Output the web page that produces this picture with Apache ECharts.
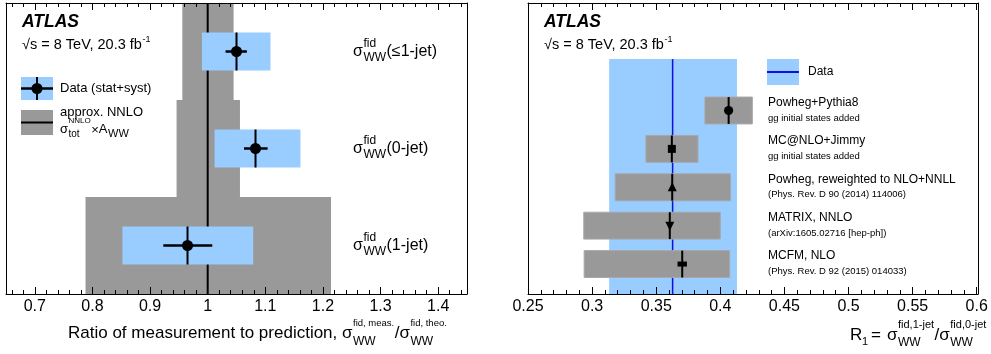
<!DOCTYPE html>
<html><head><meta charset="utf-8">
<script src="https://cdn.jsdelivr.net/npm/echarts@6/dist/echarts.min.js"></script>
<style>html,body{margin:0;padding:0;background:#fff}#c{width:991px;height:354px}</style>
</head><body><div id="c"></div>
<script>
// ---------------- Left panel: ratio measurement / prediction ----------------
const jetCategories = ['≤1-jet', '0-jet', '1-jet'];
const predCentral = [1, 1, 1];
const predLow = [0.956, 0.946, 0.788];
const predHigh = [1.045, 1.056, 1.214];
const ratioMeasured = [1.05, 1.083, 0.965];
const ratioTotLow = [0.99, 1.012, 0.852];
const ratioTotHigh = [1.109, 1.161, 1.079];
const ratioStatLow = [1.031, 1.063, 0.923];
const ratioStatHigh = [1.068, 1.104, 1.008];
const leftMajorTicks = [0.7, 0.8, 0.9, 1, 1.1, 1.2, 1.3, 1.4];
const leftMinorTicks = [0.66, 0.68, 0.72, 0.74, 0.76, 0.78, 0.82, 0.84, 0.86, 0.88, 0.92, 0.94, 0.96, 0.98,
  1.02, 1.04, 1.06, 1.08, 1.12, 1.14, 1.16, 1.18, 1.22, 1.24, 1.26, 1.28, 1.32, 1.34, 1.36, 1.38, 1.42, 1.44];

// ---------------- Right panel: R1 ----------------
const models = ['Powheg+Pythia8', 'MC@NLO+Jimmy', 'Powheg, reweighted to NLO+NNLL', 'MATRIX, NNLO', 'MCFM, NLO'];
const modelNotes = ['gg initial states added', 'gg initial states added', '(Phys. Rev. D 90 (2014) 114006)',
  '(arXiv:1605.02716 [hep-ph])', '(Phys. Rev. D 92 (2015) 014033)'];
const modelR1 = [0.4065, 0.3622, 0.3625, 0.3606, 0.3703];
const modelLow = [0.388, 0.342, 0.318, 0.2935, 0.2938];
const modelHigh = [0.425, 0.3826, 0.408, 0.400, 0.4073];
const modelMarkers = ['circle', 'square', 'triangle', 'triangleDown', 'cross'];
const dataR1 = [0.3628];
const dataR1Low = [0.3133];
const dataR1High = [0.413];
const rightMajorTicks = [0.25, 0.3, 0.35, 0.4, 0.45, 0.5, 0.55, 0.6];
const rightMinorTicks = [0.26, 0.27, 0.28, 0.29, 0.31, 0.32, 0.33, 0.34, 0.36, 0.37, 0.38, 0.39,
  0.41, 0.42, 0.43, 0.44, 0.46, 0.47, 0.48, 0.49, 0.51, 0.52, 0.53, 0.54, 0.56, 0.57, 0.58, 0.59];

const FONT = '"Liberation Sans", Arial, Helvetica, sans-serif';
const GRAY = '#999999';
const BLUE = '#99ccff';
const DBLUE = '#1010e0';

const chart = echarts.init(document.getElementById('c'), null, {renderer: 'canvas', width: 991, height: 354});

function fmt(v) { return String(+(+v).toFixed(2)); }

function xAx(grid, min, max, pos, vals, len, labels, line) {
  return {
    type: 'value', gridIndex: grid, min: min, max: max, position: pos, z: 10,
    axisLine: {show: line, onZero: false, lineStyle: {color: '#000', width: 1}},
    splitLine: {show: false},
    axisTick: {show: true, inside: true, length: len, customValues: vals, lineStyle: {color: '#000', width: 1}},
    axisLabel: {show: labels, customValues: vals, margin: 5, color: '#000', fontSize: 16, fontFamily: FONT, formatter: fmt}
  };
}
function yAx(grid, min, max, pos, inverse) {
  return {
    type: 'value', gridIndex: grid, min: min, max: max, position: pos, inverse: inverse, z: 10,
    axisLine: {show: true, onZero: false, lineStyle: {color: '#000', width: 1}},
    axisTick: {show: false}, axisLabel: {show: false}, splitLine: {show: false}
  };
}

function rectEl(api, x0, x1, y0, y1, style) {
  const a = api.coord([x0, y0]), b = api.coord([x1, y1]);
  return {type: 'rect', shape: {x: Math.min(a[0], b[0]), y: Math.min(a[1], b[1]),
    width: Math.abs(b[0] - a[0]), height: Math.abs(b[1] - a[1])}, style: style};
}
function lineEl(api, x0, y0, x1, y1, style) {
  const a = api.coord([x0, y0]), b = api.coord([x1, y1]);
  return {type: 'line', shape: {x1: a[0], y1: a[1], x2: b[0], y2: b[1]}, style: style};
}

const L_HALF = 0.196;   // half height of data boxes (row units), left panel
const R_HALF = 0.35;    // half height of model boxes, right panel
const R_MIN = -0.78, R_MAX = 6.8, R_BAND_TOP = 5.34;

function markerEl(kind, c) {
  const x = c[0], y = c[1];
  if (kind === 'circle') return {type: 'circle', shape: {cx: x, cy: y, r: 4.6}, style: {fill: '#000'}};
  if (kind === 'square') return {type: 'rect', shape: {x: x - 4, y: y - 4, width: 8, height: 8}, style: {fill: '#000'}};
  if (kind === 'triangle') return {type: 'polygon', shape: {points: [[x, y - 5], [x + 4.5, y + 4], [x - 4.5, y + 4]]}, style: {fill: '#000'}};
  if (kind === 'triangleDown') return {type: 'polygon', shape: {points: [[x, y + 5], [x + 4.5, y - 4], [x - 4.5, y - 4]]}, style: {fill: '#000'}};
  return {type: 'rect', shape: {x: x - 4.7, y: y - 2.5, width: 9.4, height: 5}, style: {fill: '#000'}};
}

const series = [
  {type: 'custom', xAxisIndex: 0, yAxisIndex: 0, z: 2,
    data: jetCategories.map((c, i) => [predLow[i], predHigh[i], i]),
    renderItem: (p, api) => rectEl(api, api.value(0), api.value(1), api.value(2), api.value(2) + 1, {fill: GRAY})},
  {type: 'custom', xAxisIndex: 0, yAxisIndex: 0, z: 2,
    data: jetCategories.map((c, i) => [predCentral[i], i]),
    renderItem: (p, api) => lineEl(api, api.value(0), api.value(1), api.value(0), api.value(1) + 1, {stroke: '#000', lineWidth: 2})},
  {type: 'custom', xAxisIndex: 0, yAxisIndex: 0, z: 2,
    data: jetCategories.map((c, i) => [ratioTotLow[i], ratioTotHigh[i], i]),
    renderItem: (p, api) => rectEl(api, api.value(0), api.value(1), api.value(2) + 0.5 - L_HALF, api.value(2) + 0.5 + L_HALF, {fill: BLUE})},
  {type: 'custom', xAxisIndex: 0, yAxisIndex: 0, z: 2,
    data: jetCategories.map((c, i) => [ratioMeasured[i], i, ratioStatLow[i], ratioStatHigh[i]]),
    renderItem: (p, api) => {
      const v = api.value(0), r = api.value(1) + 0.5;
      const c = api.coord([v, r]);
      return {type: 'group', children: [
        lineEl(api, api.value(2), r, api.value(3), r, {stroke: '#000', lineWidth: 2.5}),
        lineEl(api, v, r - L_HALF, v, r + L_HALF, {stroke: '#000', lineWidth: 2}),
        {type: 'circle', shape: {cx: c[0], cy: c[1], r: 5.5}, style: {fill: '#000'}}
      ]};
    }},
  {type: 'custom', xAxisIndex: 4, yAxisIndex: 2, z: 2,
    data: dataR1.map((v, i) => [dataR1Low[i], dataR1High[i], v]),
    renderItem: (p, api) => ({type: 'group', children: [
      rectEl(api, api.value(0), api.value(1), R_MIN, R_BAND_TOP, {fill: BLUE}),
      lineEl(api, api.value(2), R_MIN, api.value(2), R_BAND_TOP, {stroke: DBLUE, lineWidth: 1.5})
    ]})},
  {type: 'custom', xAxisIndex: 4, yAxisIndex: 2, z: 2,
    data: models.map((m, i) => [modelLow[i], modelHigh[i], 4 - i]),
    renderItem: (p, api) => rectEl(api, api.value(0), api.value(1), api.value(2) - R_HALF, api.value(2) + R_HALF, {fill: GRAY, stroke: '#a8a8a8', lineWidth: 1})},
  {type: 'custom', xAxisIndex: 4, yAxisIndex: 2, z: 2,
    data: models.map((m, i) => [modelR1[i], 4 - i]),
    renderItem: (p, api) => {
      const v = api.value(0), r = api.value(1);
      return {type: 'group', children: [
        lineEl(api, v, r - R_HALF, v, r + R_HALF, {stroke: '#000', lineWidth: 2}),
        markerEl(modelMarkers[p.dataIndex], api.coord([v, r]))
      ]};
    }}
];

chart.setOption({
  animation: false,
  backgroundColor: '#fff',
  grid: [
    {left: 6, top: 3, width: 461, height: 291, containLabel: false},
    {left: 528, top: 3, width: 450, height: 291, containLabel: false}
  ],
  xAxis: [
    xAx(0, 0.65, 1.45, 'bottom', leftMajorTicks, 7, true, true),
    xAx(0, 0.65, 1.45, 'bottom', leftMinorTicks, 4, false, false),
    xAx(0, 0.65, 1.45, 'top', leftMajorTicks, 7, false, true),
    xAx(0, 0.65, 1.45, 'top', leftMinorTicks, 4, false, false),
    xAx(1, 0.25, 0.601, 'bottom', rightMajorTicks, 7, true, true),
    xAx(1, 0.25, 0.601, 'bottom', rightMinorTicks, 4, false, false),
    xAx(1, 0.25, 0.601, 'top', rightMajorTicks, 7, false, true),
    xAx(1, 0.25, 0.601, 'top', rightMinorTicks, 4, false, false)
  ],
  yAxis: [
    yAx(0, 0, 3, 'left', true),
    yAx(0, 0, 3, 'right', true),
    yAx(1, R_MIN, R_MAX, 'left', false),
    yAx(1, R_MIN, R_MAX, 'right', false)
  ],
  series: series
});

// ---------------- texts ----------------
const mctx = document.createElement('canvas').getContext('2d');
function tw(text, size, bold, italic) {
  mctx.font = (italic ? 'italic ' : '') + (bold ? 'bold ' : '') + size + 'px ' + FONT;
  return mctx.measureText(text).width;
}
function T(x, y, text, size, opt) {
  opt = opt || {};
  return {type: 'text', x: x, y: y, silent: true, z: 20,
    style: {text: text, fill: '#000', fontSize: size, fontFamily: FONT,
      fontWeight: opt.bold ? 'bold' : 'normal', fontStyle: opt.italic ? 'italic' : 'normal',
      align: opt.align || 'left', verticalAlign: 'middle',
      textAlign: opt.align || 'left', textVerticalAlign: 'middle'}};
}
const g = [];
function sig(x, y, size, sup, supSize, sub, subSize, supDy, subDy) {
  g.push(T(x, y, 'σ', size));
  const x2 = x + tw('σ', size) + 0.5;
  g.push(T(x2, y + supDy, sup, supSize));
  g.push(T(x2, y + subDy, sub, subSize));
  return x2 + Math.max(tw(sup, supSize), tw(sub, subSize)) + 0.5;
}
// headers
[[22, 22], [544, 22]].forEach(p => {
  g.push(T(p[0], p[1], 'ATLAS', 17.5, {bold: true, italic: true}));
  const s = '√s = 8 TeV, 20.3 fb';
  g.push(T(p[0], p[1] + 23, s, 14.5));
  g.push(T(p[0] + tw(s, 14.5) + 0.5, p[1] + 18, '-1', 9));
});
// left legend
g.push({type: 'rect', shape: {x: 21, y: 77, width: 32, height: 23}, style: {fill: BLUE}, z: 20});
g.push({type: 'line', shape: {x1: 21, y1: 88.5, x2: 53, y2: 88.5}, style: {stroke: '#000', lineWidth: 2.5}, z: 21});
g.push({type: 'line', shape: {x1: 37, y1: 77, x2: 37, y2: 100}, style: {stroke: '#000', lineWidth: 2}, z: 21});
g.push({type: 'circle', shape: {cx: 37, cy: 88.5, r: 5.5}, style: {fill: '#000'}, z: 21});
g.push(T(60, 88.5, 'Data (stat+syst)', 13));
g.push({type: 'rect', shape: {x: 21, y: 110, width: 32, height: 25}, style: {fill: GRAY}, z: 20});
g.push({type: 'line', shape: {x1: 21, y1: 122.5, x2: 53, y2: 122.5}, style: {stroke: '#000', lineWidth: 2}, z: 21});
g.push(T(60, 112, 'approx. NNLO', 13));
{
  let x = sig(60, 129, 13, 'NNLO', 8, 'tot', 10, -8, 5);
  g.push(T(x, 130, '×', 13));
  x += tw('×', 13);
  g.push(T(x, 129, 'A', 13));
  x += tw('A', 13) + 0.5;
  g.push(T(x, 134, 'WW', 11));
}
// left row labels
jetCategories.forEach((c, i) => {
  const y = chart.convertToPixel({xAxisIndex: 0, yAxisIndex: 0}, [1, i + 0.5])[1];
  const x = sig(353, y, 16, 'fid', 12, 'WW', 12, -8, 6);
  g.push(T(x, y, '(' + c + ')', 16));
});
// left axis title
{
  const s = 'Ratio of measurement to prediction, ';
  g.push(T(68, 333, s, 17));
  let x = sig(68 + tw(s, 17), 333, 17, 'fid, meas.', 9.5, 'WW', 12, -10, 9);
  g.push(T(x, 333, '/', 17));
  x += tw('/', 17);
  sig(x, 333, 17, 'fid, theo.', 9.5, 'WW', 12, -10, 9);
}
// right legend
g.push({type: 'rect', shape: {x: 767, y: 59, width: 32, height: 26}, style: {fill: BLUE}, z: 20});
g.push({type: 'line', shape: {x1: 767, y1: 72, x2: 799, y2: 72}, style: {stroke: DBLUE, lineWidth: 2}, z: 21});
g.push(T(808, 72, 'Data', 12));
// right model labels
models.forEach((m, i) => {
  const y = chart.convertToPixel({xAxisIndex: 4, yAxisIndex: 2}, [0.3, 4 - i])[1];
  g.push(T(768, y - 8, m, 12));
  g.push(T(768, y + 7.5, modelNotes[i], 9.5));
});
// right axis title
g.push(T(850, 335, 'R', 17));
g.push(T(862, 342, '1', 11));
g.push(T(871, 335, '=', 17));
{
  let x = sig(887, 335, 17, 'fid,1-jet', 11, 'WW', 12, -10, 8);
  g.push(T(x, 335, '/', 17));
  x += tw('/', 17);
  sig(x, 335, 17, 'fid,0-jet', 11, 'WW', 12, -10, 8);
}

chart.setOption({graphic: {elements: g}});
</script>
</body></html>
